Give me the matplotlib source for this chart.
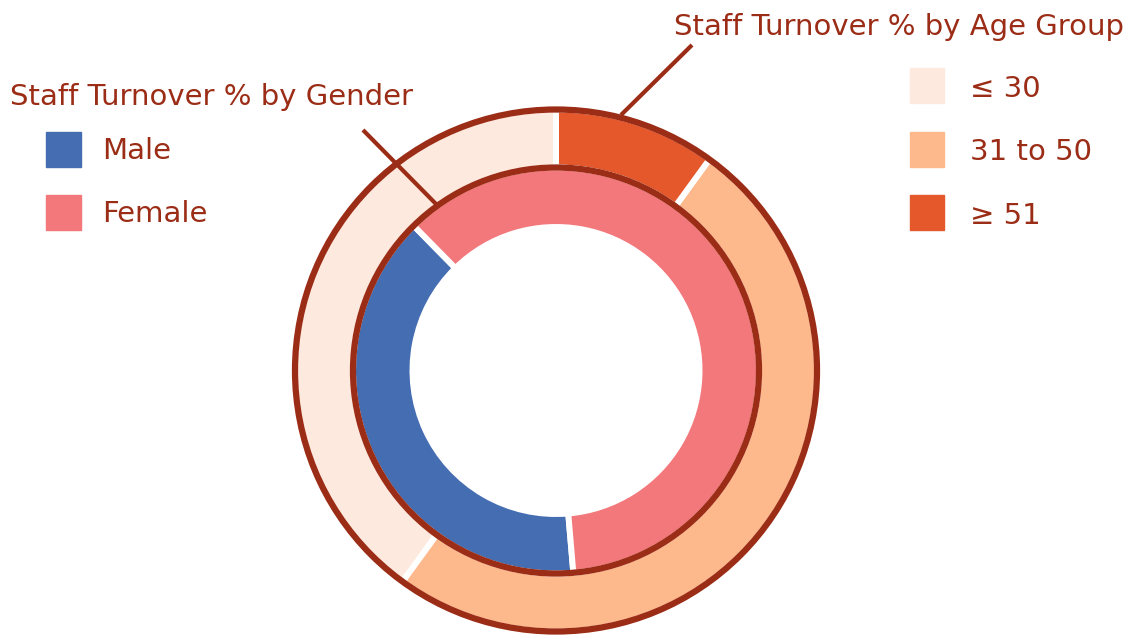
import matplotlib
matplotlib.use('Agg')
import matplotlib.pyplot as plt
from matplotlib.patches import Circle, Rectangle

# Data
age_labels = ['\u2264 30', '31 to 50', '\u2265 51']
age_values = [40, 50, 10]
age_colors = ['#FEE9DE', '#FDB98C', '#E5582C']

gender_labels = ['Male', 'Female']
gender_values = [39, 61]
gender_colors = ['#456DB2', '#F2787B']

brown = '#9B2C16'
W, H = 1136, 635

fig = plt.figure(figsize=(W / 100, H / 100), dpi=100)
ax = fig.add_axes([0, 0, 1, 1])
ax.set_xlim(0, W)
ax.set_ylim(0, H)
ax.set_aspect('equal')
ax.axis('off')

cx, cy = 556, H - 370.5
r_out, r_mid, r_in = 261, 203, 143.5

# Outer ring: age group
ax.pie(age_values, radius=r_out, center=(cx, cy), startangle=90,
       colors=age_colors, frame=True,
       wedgeprops=dict(width=r_out - r_mid, edgecolor='white', linewidth=4.3))
# Inner ring: gender
ax.pie(gender_values, radius=r_mid, center=(cx, cy), startangle=134.5,
       colors=gender_colors, frame=True,
       wedgeprops=dict(width=r_mid - r_in, edgecolor='white', linewidth=4.3))
ax.set_xlim(0, W)
ax.set_ylim(0, H)
ax.axis('off')

# brown outlines
for r in (r_out, r_mid):
    ax.add_patch(Circle((cx, cy), r, fill=False, ec=brown, lw=4.5, zorder=5))

# leader lines
ax.plot([363, 437], [H - 130, H - 205], color=brown, lw=3, zorder=6,
        solid_capstyle='butt')
ax.plot([692, 621], [H - 45, H - 115], color=brown, lw=3, zorder=6,
        solid_capstyle='butt')

fs = 21
ax.text(674, H - 35, 'Staff Turnover % by Age Group', color=brown,
        fontsize=fs, ha='left', va='baseline')
ax.text(10, H - 105, 'Staff Turnover % by Gender', color=brown,
        fontsize=fs, ha='left', va='baseline')

# legends
for i, (lab, col) in enumerate(zip(gender_labels, gender_colors)):
    top = 132 + i * 62.5
    ax.add_patch(Rectangle((46, H - top - 35), 35, 35, color=col))
    ax.text(102, H - top - 27.3, lab, color=brown, fontsize=fs,
            ha='left', va='baseline')

for i, (lab, col) in enumerate(zip(age_labels, age_colors)):
    top = 68 + i * 63.5
    ax.add_patch(Rectangle((910, H - top - 35), 34, 35, color=col))
    ax.text(970, H - top - 28.7, lab, color=brown, fontsize=fs,
            ha='left', va='baseline')

fig.savefig('out.png', dpi=100)
